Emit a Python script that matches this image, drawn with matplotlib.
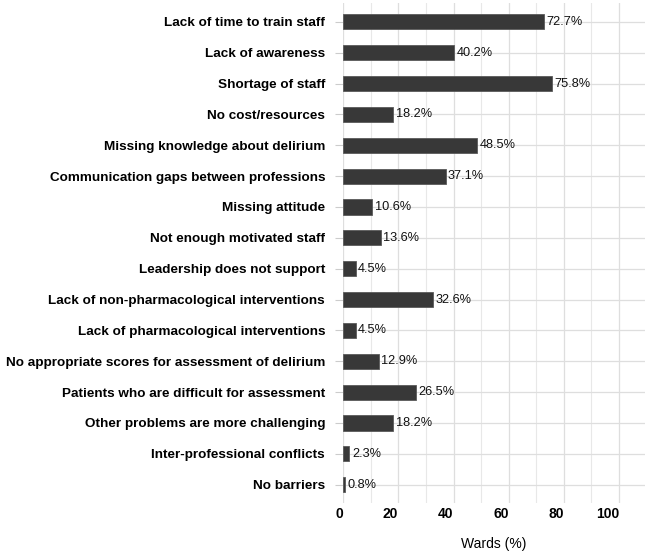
import matplotlib
matplotlib.use("Agg")
import matplotlib.pyplot as plt
import numpy as np
from matplotlib.ticker import MultipleLocator

barriers = [
    "Lack of time to train staff",
    "Lack of awareness",
    "Shortage of staff",
    "No cost/resources",
    "Missing knowledge about delirium",
    "Communication gaps between professions",
    "Missing attitude",
    "Not enough motivated staff",
    "Leadership does not support",
    "Lack of non-pharmacological interventions",
    "Lack of pharmacological interventions",
    "No appropriate scores for assessment of delirium",
    "Patients who are difficult for assessment",
    "Other problems are more challenging",
    "Inter-professional conflicts",
    "No barriers",
]
wards_pct = [72.7, 40.2, 75.8, 18.2, 48.5, 37.1, 10.6, 13.6, 4.5, 32.6,
             4.5, 12.9, 26.5, 18.2, 2.3, 0.8]

plt.rcParams['font.family'] = ['Liberation Sans', 'DejaVu Sans']

fig = plt.figure(figsize=(6.45, 5.56), dpi=100)
ax = fig.add_axes([0.532, 0.095, 0.468, 0.899])

y = np.arange(len(barriers))[::-1]
ax.barh(y, wards_pct, height=0.49, color="#383838", edgecolor="#5a5a5a",
        linewidth=0.6, zorder=3)

for yi, v in zip(y, wards_pct):
    ax.text(v + 0.9, yi, f"{v}%", va="center", ha="left", fontsize=9.2,
            color="#111111", zorder=4)

ax.set_xlim(0, 109.4)
ax.set_ylim(-0.6, len(barriers) - 0.4)
ax.set_yticks(y)
ax.set_yticklabels(barriers, fontsize=9.7, fontweight="bold")
ax.xaxis.set_minor_locator(MultipleLocator(10))
ax.set_xticks(np.arange(0, 101, 20))
for lbl in ax.get_xticklabels():
    lbl.set_fontweight("bold")
    lbl.set_fontsize(10)
    lbl.set_horizontalalignment("right")
ax.set_xlabel("Wards (%)", fontsize=10, labelpad=11)

ax.grid(which="major", axis="both", color="#dedede", linewidth=0.9, zorder=0)
ax.grid(which="minor", axis="x", color="#e8e8e8", linewidth=0.8, zorder=0)
ax.tick_params(axis="y", which="major", length=6, color="#cccccc", pad=7)
ax.tick_params(axis="x", which="minor", length=0)
ax.tick_params(axis="x", which="major", length=0, pad=3)
for s in ax.spines.values():
    s.set_visible(False)

fig.savefig("out.png", dpi=100)
